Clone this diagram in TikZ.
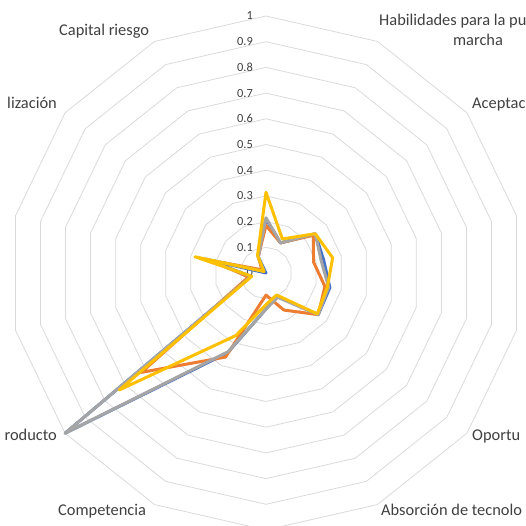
\documentclass[tikz,border=0pt]{standalone}
\usepackage{fontspec}
\setmainfont{Carlito}
\definecolor{serblue}{HTML}{4472C4}
\definecolor{serorange}{HTML}{ED7D31}
\definecolor{sergray}{HTML}{A5A5A5}
\definecolor{seryellow}{HTML}{FFC000}
\definecolor{ringgray}{HTML}{D9D9D9}
\definecolor{txtgray}{HTML}{404040}
\begin{document}
\begin{tikzpicture}[x=1pt,y=-1pt,
  gridline/.style={draw=ringgray, line width=0.75pt, line join=round},
  serline/.style={line width=3pt, line join=round, line cap=round},
  ticklbl/.style={text=txtgray, inner sep=0pt, anchor=east, font=\fontsize{12.4}{14}\selectfont},
  axlbl/.style={text=txtgray, inner sep=0pt, font=\fontsize{16.4}{20}\selectfont}]
\def\cx{266}\def\cy{273}\def\R{257}
\useasboundingbox (0,0) rectangle (526,526);
\fill[white] (0,0) rectangle (526,526);
\clip (0,0) rectangle (526,526);
% rings
\foreach \k in {1,...,10}{
  \draw[gridline] plot[samples at={0,1,...,13}] ({\cx+\R*\k/10*sin(\x*360/14)},{\cy-\R*\k/10*cos(\x*360/14)}) -- cycle;
}
% tick labels
\foreach \v/\t in {0/0,1/0.1,2/0.2,3/0.3,4/0.4,5/0.5,6/0.6,7/0.7,8/0.8,9/0.9,10/1}{
  \node[ticklbl] (tick\v) at (253,{\cy-\R*\v/10}) {\t};
}
% series
\foreach \v [count=\i from 0] in {0.21,0.13,0.245,0.23,0.255,0.26,0.10,0.14,0.345,1.0,0.06,0.24,0.0,0.07}
  \coordinate (b\i) at ({\cx+\R*\v*sin(\i*360/14)},{\cy-\R*\v*cos(\i*360/14)});
\foreach \v [count=\i from 0] in {0.185,0.13,0.235,0.19,0.235,0.26,0.16,0.086,0.363,0.62,0.07,0.22,0.02,0.07}
  \coordinate (o\i) at ({\cx+\R*\v*sin(\i*360/14)},{\cy-\R*\v*cos(\i*360/14)});
\foreach \v [count=\i from 0] in {0.215,0.13,0.245,0.22,0.25,0.26,0.105,0.14,0.34,1.0,0.06,0.25,0.01,0.07}
  \coordinate (g\i) at ({\cx+\R*\v*sin(\i*360/14)},{\cy-\R*\v*cos(\i*360/14)});
\foreach \v [count=\i from 0] in {0.314,0.147,0.245,0.266,0.245,0.255,0.095,0.123,0.27,0.73,0.057,0.283,0.01,0.076}
  \coordinate (y\i) at ({\cx+\R*\v*sin(\i*360/14)},{\cy-\R*\v*cos(\i*360/14)});
\draw[serline, serblue] (b0)--(b1)--(b2)--(b3)--(b4)--(b5)--(b6)--(b7)--(b8)--(b9)--(b10)--(b11)--(b12)--(b13)--cycle;
\draw[serline, serorange] (o0)--(o1)--(o2)--(o3)--(o4)--(o5)--(o6)--(o7)--(o8)--(o9)--(o10)--(o11)--(o12)--(o13)--cycle;
\draw[serline, sergray] (g0)--(g1)--(g2)--(g3)--(g4)--(g5)--(g6)--(g7)--(g8)--(g9)--(g10)--(g11)--(g12)--(g13)--cycle;
\draw[serline, seryellow] (y0)--(y1)--(y2)--(y3)--(y4)--(y5)--(y6)--(y7)--(y8)--(y9)--(y10)--(y11)--(y12)--(y13)--cycle;
% axis labels (as far as the frame shows them)
\node[axlbl, anchor=base west] (lcap) at (59,36) {Capital riesgo};
\node[axlbl, anchor=base west] (lhab) at (379,25.7) {Habilidades para la pu};
\node[axlbl, anchor=base] (lhab2) at (478,45.7) {marcha};
\node[axlbl, anchor=base west] (lacep) at (472,108.3) {Aceptac};
\node[axlbl, anchor=base east] (lint) at (57,108.3) {lización};
\node[axlbl, anchor=base west] (lopo) at (472,440) {Oportu};
\node[axlbl, anchor=base east] (lprod) at (57,440) {roducto};
\node[axlbl, anchor=base west] (lcomp) at (58,515) {Competencia};
\node[axlbl, anchor=base west] (labs) at (381,515) {Absorción de tecnolo};
\end{tikzpicture}
\end{document}
